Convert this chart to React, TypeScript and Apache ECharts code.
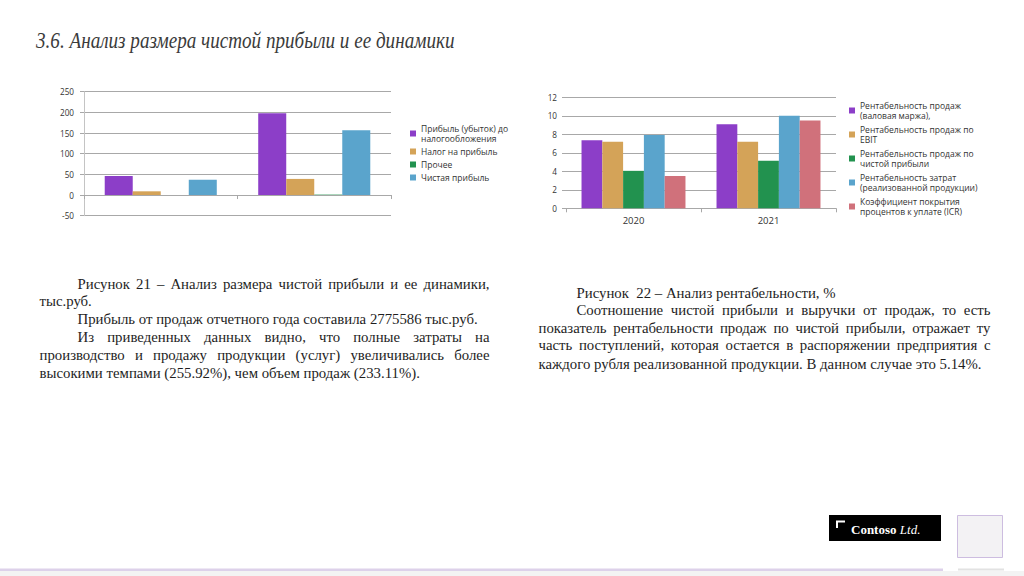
import React, { useEffect, useRef } from "react";
import * as echarts from "echarts";

// ---------- Chart 1 data (тыс.руб.) ----------
const chart1Categories = ["1", "2"];
const chart1Names = [
  "Прибыль (убыток) до\nналогообложения",
  "Налог на прибыль",
  "Прочее",
  "Чистая прибыль",
];
const profitBeforeTax = [46, 198];
const incomeTax = [9, 39];
const otherItems = [0, 1];
const netProfit = [37, 157];
const chart1YMin = -50;
const chart1YMax = 250;
const chart1YStep = 50;

// ---------- Chart 2 data (%) ----------
const chart2Categories = ["2020", "2021"];
const chart2Names = [
  "Рентабельность продаж\n(валовая маржа),",
  "Рентабельность продаж по\nEBIT",
  "Рентабельность продаж по\nчистой прибыли",
  "Рентабельность затрат\n(реализованной продукции)",
  "Коэффициент покрытия\nпроцентов к уплате (ICR)",
];
const grossMargin = [7.35, 9.08];
const ebitMargin = [7.2, 7.2];
const netMargin = [4.05, 5.15];
const costReturn = [7.92, 10.0];
const icrRatio = [3.49, 9.5];
const chart2YMin = 0;
const chart2YMax = 12;
const chart2YStep = 2;

// ---------- Slide texts ----------
const titleText = "3.6. Анализ размера чистой прибыли и ее динамики";
const leftLines = [
  "Рисунок  21 – Анализ размера чистой прибыли и ее динамики,",
  "тыс.руб.",
  "Прибыль от продаж отчетного года составила 2775586 тыс.руб.",
  "Из приведенных данных видно, что полные затраты на",
  "производство и продажу продукции (услуг) увеличивались более",
  "высокими темпами (255.92%), чем объем продаж (233.11%).",
];
const rightLines = [
  "Рисунок  22 – Анализ рентабельности, %",
  "Соотношение чистой прибыли и выручки от продаж, то есть",
  "показатель рентабельности продаж по чистой прибыли, отражает ту",
  "часть поступлений, которая остается в распоряжении предприятия с",
  "каждого рубля реализованной продукции. В данном случае это 5.14%.",
];

const COLORS = ["#8C3EC8", "#D4A358", "#22924F", "#5AA4CC", "#D0717B"];
const SERIF = '"Liberation Serif", "Times New Roman", serif';
const SANS = '"Open Sans", "Noto Sans", sans-serif';

let ctx: CanvasRenderingContext2D | null = null;
function measure(text: string, font: string): number {
  if (!ctx) ctx = document.createElement("canvas").getContext("2d");
  ctx!.font = font;
  return ctx!.measureText(text).width;
}

function lineEls(
  text: string,
  x0: number,
  x1: number,
  y: number,
  size: number,
  justify: boolean
): any[] {
  const font = `${size}px ${SERIF}`;
  const base = { fill: "#1e1e1e", fontSize: size, fontFamily: SERIF, verticalAlign: "middle", align: "left" };
  if (!justify) {
    return [{ type: "text", x: x0, y, silent: true, style: { ...base, text } }];
  }
  const words = text.split(" ").filter((w) => w.length > 0);
  const widths = words.map((w) => measure(w, font));
  const total = widths.reduce((a, b) => a + b, 0);
  const gap = (x1 - x0 - total) / (words.length - 1);
  let x = x0;
  return words.map((w, i) => {
    const el = { type: "text", x, y, silent: true, style: { ...base, text: w } };
    x += widths[i] + gap;
    return el;
  });
}

export default function App() {
  const ref = useRef<HTMLDivElement>(null);

  useEffect(() => {
    if (!ref.current) return;
    const chart = echarts.init(ref.current, null, { renderer: "svg" });

    // body text size calibrated on the natural width of a non-justified line
    const w14 = measure(leftLines[2], `14px ${SERIF}`);
    const bodySize = Math.round((14 * 399) / w14 * 10) / 10;

    const titleSize = 23;
    const titleW = measure(titleText, `italic ${titleSize}px ${SERIF}`);
    const titleScale = 419 / titleW;

    const L0 = 39.5, LI = 77.5, L1 = 489.5;
    const R0 = 538.5, RI = 576.5, R1 = 990.5;
    const dy = -1.5;
    const graphic: any[] = [
      {
        type: "text",
        x: 36,
        y: 42 + dy,
        scaleX: titleScale,
        silent: true,
        style: {
          text: titleText,
          fontSize: titleSize,
          fontStyle: "italic",
          fontFamily: SERIF,
          fill: "#3b3b3b",
          verticalAlign: "middle",
        },
      },
      ...lineEls(leftLines[0], LI, L1, 285 + dy, bodySize, true),
      ...lineEls(leftLines[1], L0, L1, 302.3 + dy, bodySize, false),
      ...lineEls(leftLines[2], LI, L1, 320 + dy, bodySize, false),
      ...lineEls(leftLines[3], LI, L1, 338.3 + dy, bodySize, true),
      ...lineEls(leftLines[4], L0, L1, 356.7 + dy, bodySize, true),
      ...lineEls(leftLines[5], L0, L1, 374 + dy, bodySize, false),
      ...lineEls(rightLines[0], RI, R1, 294 + dy, bodySize, false),
      ...lineEls(rightLines[1], RI, R1, 311.7 + dy, bodySize, true),
      ...lineEls(rightLines[2], R0, R1, 329.3 + dy, bodySize, true),
      ...lineEls(rightLines[3], R0, R1, 346.7 + dy, bodySize, true),
      ...lineEls(rightLines[4], R0, R1, 365 + dy, bodySize, false),
      // logo
      { type: "rect", silent: true, shape: { x: 829, y: 515, width: 112, height: 26 }, style: { fill: "#000" } },
      {
        type: "polyline",
        silent: true,
        shape: { points: [[837, 528], [837, 521.5], [845, 521.5]] },
        style: { stroke: "#fff", lineWidth: 2, fill: null },
      },
      {
        type: "text",
        x: 851,
        y: 529,
        silent: true,
        style: {
          text: "{a|Contoso} {b|Ltd.}",
          verticalAlign: "middle",
          rich: {
            a: { fontFamily: SERIF, fontWeight: "bold", fontSize: 13, fill: "#fff" },
            b: { fontFamily: SERIF, fontStyle: "italic", fontSize: 13, fill: "#fff" },
          },
        },
      },
      // square
      {
        type: "rect",
        silent: true,
        shape: { x: 957.5, y: 515.5, width: 45, height: 42 },
        style: { fill: "#f3f2f4", stroke: "#cdbde0", lineWidth: 1 },
      },
      // bottom band
      { type: "rect", silent: true, shape: { x: 0, y: 571, width: 1024, height: 5 }, style: { fill: "#f3f3f3" } },
      { type: "rect", silent: true, shape: { x: 0, y: 568.5, width: 943, height: 2.5 }, style: { fill: "#ddd1ea" } },
      { type: "rect", silent: true, shape: { x: 958, y: 568.5, width: 46, height: 2 }, style: { fill: "#e2e2e2" } },
    ];

    const axisGray = "#a8a8a8";
    const labelStyle = { fontFamily: SANS, fontSize: 8.2, color: "#333" };

    const s1Data = [profitBeforeTax, incomeTax, otherItems, netProfit];
    const s2Data = [grossMargin, ebitMargin, netMargin, costReturn, icrRatio];
    const c1Colors = [COLORS[0], COLORS[1], COLORS[2], COLORS[3]];

    const option: any = {
      animation: false,
      backgroundColor: "#ffffff",
      grid: [
        { left: 84, top: 91.7, width: 307, height: 124 },
        { left: 566, top: 97.3, width: 270, height: 111 },
      ],
      xAxis: [
        {
          type: "category",
          gridIndex: 0,
          data: chart1Categories,
          axisLine: { onZero: true, lineStyle: { color: axisGray } },
          axisTick: { show: true, length: 4, lineStyle: { color: axisGray } },
          axisLabel: { show: false },
        },
        {
          type: "category",
          gridIndex: 1,
          data: chart2Categories,
          axisLine: { lineStyle: { color: axisGray } },
          axisTick: { show: true, length: 4, lineStyle: { color: axisGray } },
          axisLabel: { fontFamily: SANS, fontSize: 9.5, color: "#333", margin: 7 },
        },
      ],
      yAxis: [
        {
          type: "value",
          gridIndex: 0,
          min: chart1YMin,
          max: chart1YMax,
          interval: chart1YStep,
          axisLine: { show: true, lineStyle: { color: "#c4c4c4" } },
          axisTick: { show: true, length: 4, lineStyle: { color: axisGray } },
          axisLabel: { ...labelStyle, margin: 10 },
          splitLine: { lineStyle: { color: axisGray } },
        },
        {
          type: "value",
          gridIndex: 1,
          min: chart2YMin,
          max: chart2YMax,
          interval: chart2YStep,
          axisLine: { show: false },
          axisTick: { show: true, length: 4, lineStyle: { color: axisGray } },
          axisLabel: { ...labelStyle, margin: 9 },
          splitLine: { lineStyle: { color: axisGray } },
        },
      ],
      legend: [
        {
          data: chart1Names,
          orient: "vertical",
          left: 410,
          top: 123.5,
          padding: 0,
          itemWidth: 6,
          itemHeight: 6,
          itemGap: 3,
          icon: "rect",
          selectedMode: false,
          textStyle: { fontFamily: SANS, fontSize: 8.5, lineHeight: 10, color: "#333" },
        },
        {
          data: chart2Names,
          orient: "vertical",
          left: 849,
          top: 100,
          padding: 0,
          itemWidth: 6,
          itemHeight: 6,
          itemGap: 3,
          icon: "rect",
          selectedMode: false,
          textStyle: { fontFamily: SANS, fontSize: 8.5, lineHeight: 10.5, color: "#333" },
        },
      ],
      series: [
        ...chart1Names.map((name, i) => ({
          type: "bar",
          name,
          xAxisIndex: 0,
          yAxisIndex: 0,
          data: s1Data[i],
          barGap: "0%",
          barCategoryGap: "27%",
          itemStyle: { color: c1Colors[i] },
        })),
        ...chart2Names.map((name, i) => ({
          type: "bar",
          name,
          xAxisIndex: 1,
          yAxisIndex: 1,
          data: s2Data[i],
          barGap: "0%",
          barCategoryGap: "23%",
          itemStyle: { color: COLORS[i] },
        })),
      ],
      graphic,
    };

    chart.setOption(option);
    return () => chart.dispose();
  }, []);

  return (
    <div
      ref={ref}
      style={{ position: "fixed", left: 0, top: 0, width: 1024, height: 576, background: "#fff" }}
    />
  );
}
